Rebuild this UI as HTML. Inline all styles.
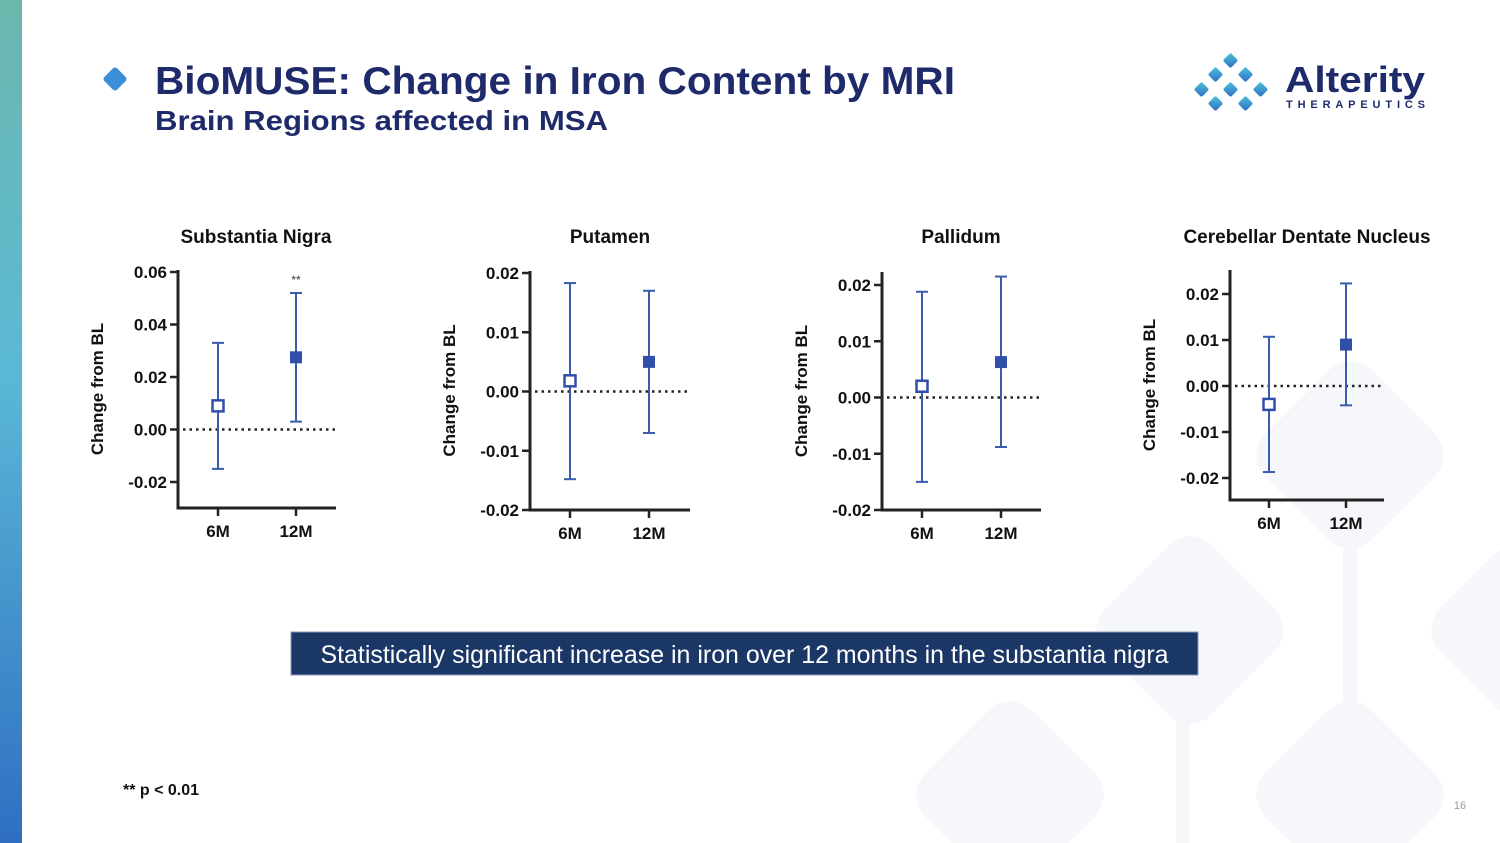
<!DOCTYPE html>
<html><head><meta charset="utf-8">
<style>
html,body{margin:0;padding:0;background:#fff;width:1500px;height:843px;overflow:hidden;}
body{position:relative;font-family:"Liberation Sans",Arial,sans-serif;}
svg{display:block;}
</style></head>
<body>
<svg id="s" width="1500" height="843" viewBox="0 0 1500 843" xmlns="http://www.w3.org/2000/svg">
<defs>
<linearGradient id="lb" x1="0" y1="0" x2="0" y2="1">
<stop offset="0" stop-color="#6bb7ad"/><stop offset="0.45" stop-color="#5ab8d6"/><stop offset="1" stop-color="#2f6fc2"/>
</linearGradient>
<linearGradient id="lg" x1="0" y1="0" x2="1" y2="1">
<stop offset="0" stop-color="#4cc4dc"/><stop offset="1" stop-color="#2f6dc4"/>
</linearGradient>
</defs>
<g fill="#f5f7fb">
<rect x="1115" y="555" width="150" height="150" rx="30" transform="rotate(45 1190 630)"/>
<rect x="1275" y="380" width="150" height="150" rx="30" transform="rotate(45 1350 455)"/>
<rect x="935" y="720" width="150" height="150" rx="30" transform="rotate(45 1010 795)"/>
<rect x="1275" y="720" width="150" height="150" rx="30" transform="rotate(45 1350 795)"/>
<rect x="1450" y="555" width="150" height="150" rx="30" transform="rotate(45 1525 630)"/>
<rect x="1176" y="620" width="14" height="223"/>
<rect x="1343" y="500" width="14" height="343"/>
</g>
<rect x="0" y="0" width="22" height="843" fill="url(#lb)"/>
<rect x="106" y="70" width="18" height="18" rx="3" transform="rotate(45 115 79)" fill="#3a8fd8"/>
<text x="155" y="94" font-size="39" font-weight="bold" fill="#1f2a6b" textLength="800" lengthAdjust="spacingAndGlyphs">BioMUSE: Change in Iron Content by MRI</text>
<text x="155" y="130" font-size="28" font-weight="bold" fill="#1f2a6b" textLength="453" lengthAdjust="spacingAndGlyphs">Brain Regions affected in MSA</text>
<g>
<g fill="url(#lg)">
<rect x="1225" y="55" width="11" height="11" rx="2" transform="rotate(45 1230.5 60.5)"/>
<rect x="1210" y="69" width="11" height="11" rx="2" transform="rotate(45 1215.5 74.5)"/>
<rect x="1240" y="69" width="11" height="11" rx="2" transform="rotate(45 1245.5 74.5)"/>
<rect x="1196" y="84" width="11" height="11" rx="2" transform="rotate(45 1201.5 89.5)"/>
<rect x="1225" y="84" width="11" height="11" rx="2" transform="rotate(45 1230.5 89.5)"/>
<rect x="1255" y="84" width="11" height="11" rx="2" transform="rotate(45 1260.5 89.5)"/>
<rect x="1210" y="98" width="11" height="11" rx="2" transform="rotate(45 1215.5 103.5)"/>
<rect x="1240" y="98" width="11" height="11" rx="2" transform="rotate(45 1245.5 103.5)"/>
</g>
<text x="1285" y="92" font-size="36" font-weight="bold" fill="#1f2a6b" textLength="140" lengthAdjust="spacingAndGlyphs">Alterity</text>
<text x="1286" y="108" font-size="11" font-weight="bold" fill="#1f2a6b" textLength="139" lengthAdjust="spacing">THERAPEUTICS</text>
</g>
<g id="charts"></g>
<rect x="291" y="632" width="907" height="43" fill="#1b3766" stroke="#8a9bb5" stroke-width="1"/>
<text x="744.5" y="663" font-size="25" fill="#fff" text-anchor="middle" textLength="848" lengthAdjust="spacingAndGlyphs">Statistically significant increase in iron over 12 months in the substantia nigra</text>
<text x="123" y="795" font-size="16" font-weight="bold" fill="#111">**  p &lt; 0.01</text>
<text x="1460" y="809" font-size="11" fill="#999" text-anchor="middle">16</text>
</svg>
<script>
const categories = ["6M","12M"];
const titles = ["Substantia Nigra","Putamen","Pallidum","Cerebellar Dentate Nucleus"];
const meanValues = [[0.009,0.0275],[0.0018,0.005],[0.002,0.0063],[-0.004,0.009]];
const upperValues = [[0.033,0.052],[0.0183,0.017],[0.0188,0.0215],[0.0107,0.0223]];
const lowerValues = [[-0.015,0.003],[-0.0148,-0.007],[-0.015,-0.0088],[-0.0187,-0.0042]];
const tickValues = [[0.06,0.04,0.02,0,-0.02],[0.02,0.01,0,-0.01,-0.02],[0.02,0.01,0,-0.01,-0.02],[0.02,0.01,0,-0.01,-0.02]];
const tickLabels = [["0.06","0.04","0.02","0.00","-0.02"],["0.02","0.01","0.00","-0.01","-0.02"],["0.02","0.01","0.00","-0.01","-0.02"],["0.02","0.01","0.00","-0.01","-0.02"]];
const significance = [["","**"],["",""],["",""],["",""]];

const layouts = [
 {ax:178,xe:336,t0:272,t1:482,top:270,bot:508,c:[218,296],ty:236,tx:256},
 {ax:530,xe:690,t0:273,t1:510,top:271,bot:510,c:[570,649],ty:236,tx:610},
 {ax:882,xe:1041,t0:285,t1:510,top:272,bot:510,c:[922,1001],ty:236,tx:961},
 {ax:1230,xe:1384,t0:294,t1:478,top:270,bot:500,c:[1269,1346],ty:236,tx:1307}
];
const NS="http://www.w3.org/2000/svg";
const root=document.getElementById('charts');
function mk(tag,attrs,parent){const e=document.createElementNS(NS,tag);for(const k in attrs)e.setAttribute(k,attrs[k]);parent.appendChild(e);return e;}
titles.forEach((title,i)=>{
 const L=layouts[i];const tv=tickValues[i];
 const vmax=tv[0],vmin=tv[tv.length-1];
 const y=v=>L.t0+(vmax-v)/(vmax-vmin)*(L.t1-L.t0);
 const g=mk('g',{},root);
 
 
 const t=mk('text',{x:L.tx,y:L.ty+7,'font-size':19,'font-weight':'bold','text-anchor':'middle',fill:'#111'},g);t.textContent=title;
 
 
 const midY=(L.top+L.bot)/2;
 const yl=mk('text',{x:0,y:0,'font-size':17,'font-weight':'bold','text-anchor':'middle',fill:'#111',transform:`translate(${L.ax-75},${midY}) rotate(-90)`},g);yl.textContent='Change from BL';
 
 
 mk('line',{x1:L.ax,y1:L.top,x2:L.ax,y2:L.bot+1.5,stroke:'#222','stroke-width':3},g);
 mk('line',{x1:L.ax,y1:L.bot,x2:L.xe,y2:L.bot,stroke:'#222','stroke-width':3},g);
 tv.forEach((v,k)=>{
  mk('line',{x1:L.ax-8,y1:y(v),x2:L.ax,y2:y(v),stroke:'#222','stroke-width':2.5},g);
  const tl=mk('text',{x:L.ax-11,y:y(v)+6,'font-size':17,'font-weight':'bold','text-anchor':'end',fill:'#111'},g);tl.textContent=tickLabels[i][k];
  
  
 });
 mk('line',{x1:L.ax+5,y1:y(0),x2:L.xe,y2:y(0),stroke:'#222','stroke-width':2.5,'stroke-dasharray':'2.5 4'},g);
 categories.forEach((c,j)=>{
  const cx=L.c[j];
  mk('line',{x1:cx,y1:L.bot,x2:cx,y2:L.bot+8,stroke:'#222','stroke-width':2.5},g);
  const xl=mk('text',{x:cx,y:L.bot+29,'font-size':17,'font-weight':'bold','text-anchor':'middle',fill:'#111'},g);xl.textContent=c;
  
  
  const eb=mk('g',{stroke:'#3a5cad','stroke-width':2},g);
  
  
  mk('line',{x1:cx,y1:y(upperValues[i][j]),x2:cx,y2:y(lowerValues[i][j])},eb);
  mk('line',{x1:cx-6,y1:y(upperValues[i][j]),x2:cx+6,y2:y(upperValues[i][j])},eb);
  mk('line',{x1:cx-6,y1:y(lowerValues[i][j]),x2:cx+6,y2:y(lowerValues[i][j])},eb);
  const m=meanValues[i][j];
  const pt=j===0?mk('rect',{x:cx-5.5,y:y(m)-5.5,width:11,height:11,fill:'#fff',stroke:'#2f4fa8','stroke-width':2.5},g)
               :mk('rect',{x:cx-6,y:y(m)-6,width:12,height:12,fill:'#2f4fa8'},g);
  
  
  if(significance[i][j]){
   const s=mk('text',{x:cx,y:y(upperValues[i][j])-9,'font-size':12,'text-anchor':'middle',fill:'#333'},g);s.textContent=significance[i][j];
   
   
  }
 });
});
</script>
</body></html>
